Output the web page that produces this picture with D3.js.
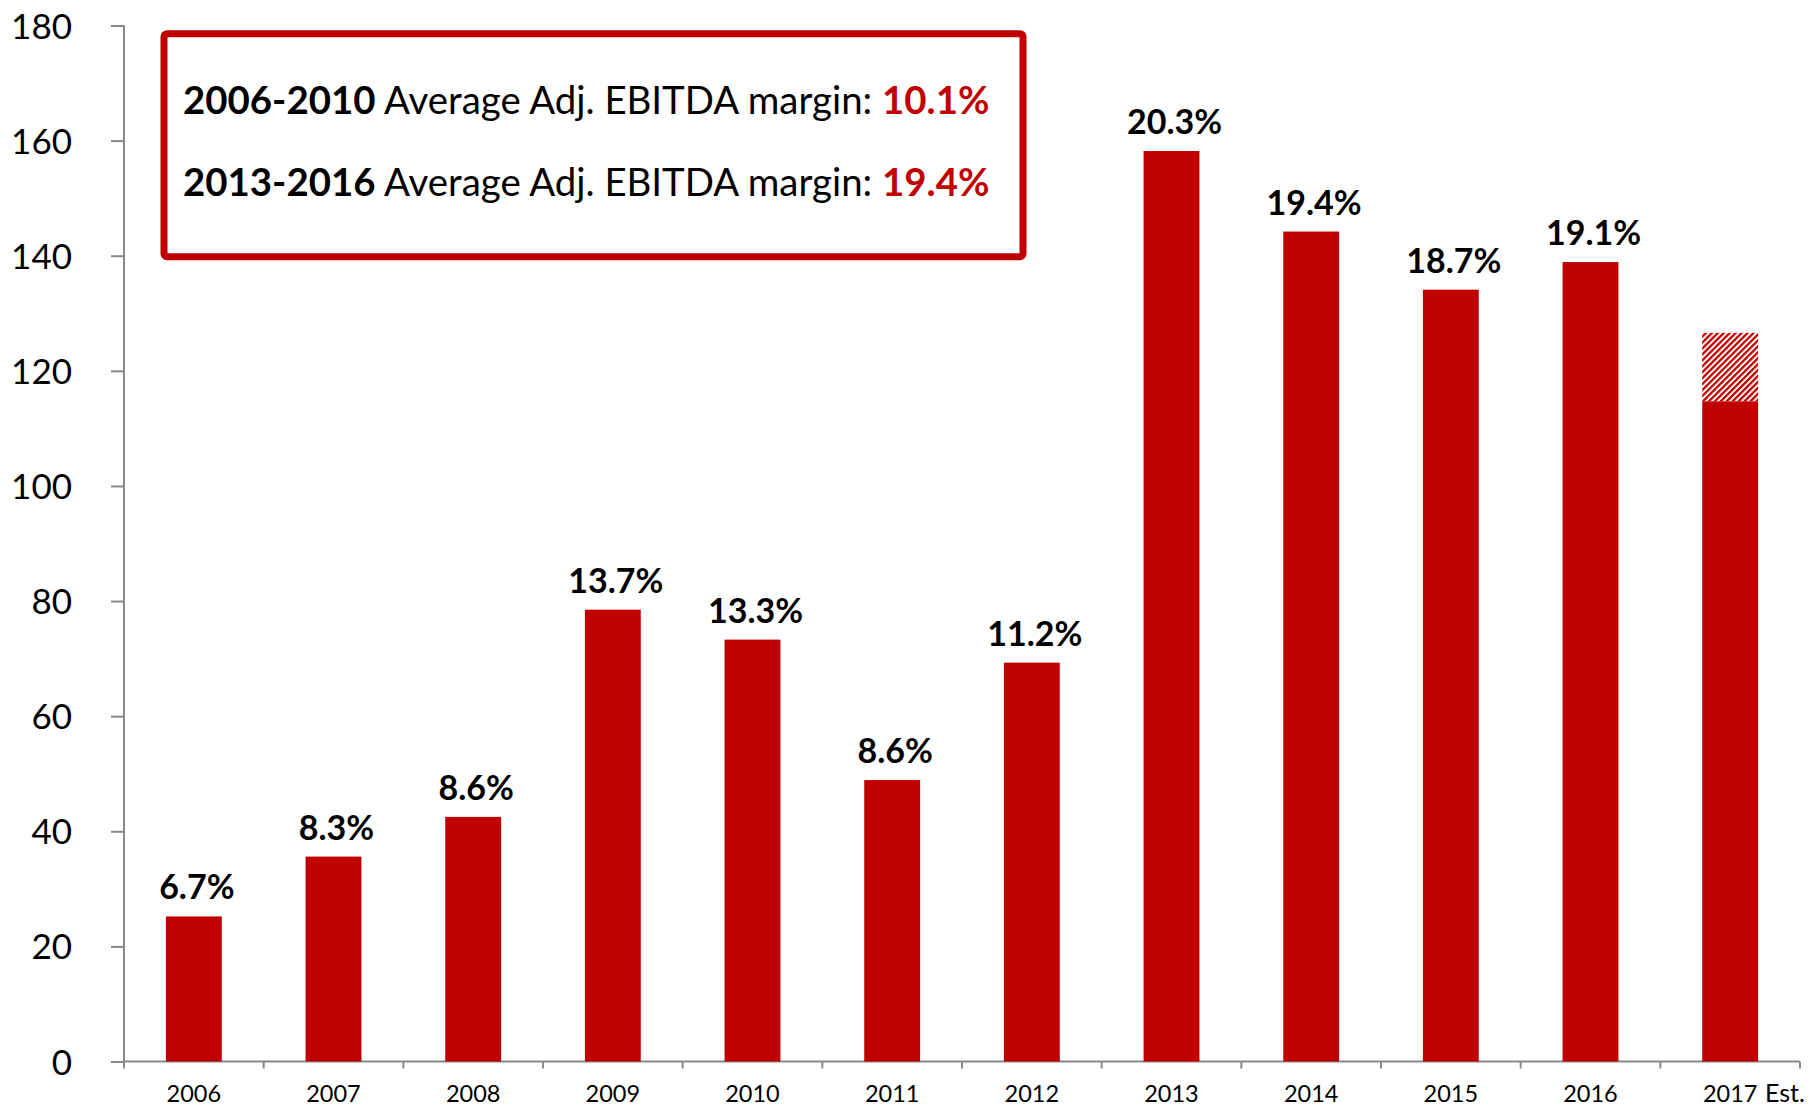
<!DOCTYPE html>
<html>
<head>
<meta charset="utf-8">
<script src="https://cdn.jsdelivr.net/npm/d3@7"></script>
<style>
    body { margin: 0; background: #fff; }
    svg { display: block; font-family: Lato, "Open Sans", sans-serif; }
    .axis path, .axis line { stroke: #898989; stroke-width: 2; }
</style>
</head>
<body>
<div id="chart"></div>
<script>
// years on the x axis
var years = ["2006", "2007", "2008", "2009", "2010", "2011", "2012", "2013", "2014", "2015", "2016", "2017"];
// Adj. EBITDA per year
var ebitda = [25.2, 35.6, 42.5, 78.5, 73.3, 48.9, 69.3, 158.2, 144.2, 134.1, 138.9, 114.7];
// margin labels above each bar, 2017 has none
var margins = ["6.7%", "8.3%", "8.6%", "13.7%", "13.3%", "8.6%", "11.2%", "20.3%", "19.4%", "18.7%", "19.1%", ""];
// upper end of the hatched estimate range
var estYears = ["2017"];
var estHigh = [126.6];
var yTicks = [0, 20, 40, 60, 80, 100, 120, 140, 160, 180];
// text in the box
var boxLines = [
    {period: "2006-2010", text: " Average Adj. EBITDA margin: ", value: "10.1%"},
    {period: "2013-2016", text: " Average Adj. EBITDA margin: ", value: "19.4%"}
];

var red = "#c00000";
var W = 1817, H = 1112;
var plotLeft = 124, plotRight = 1800, plotTop = 25.5, plotBottom = 1061.5;

var svg = d3.select("#chart").append("svg")
    .attr("width", W)
    .attr("height", H);

// hatch for the estimate part
var defs = svg.append("defs");
defs.append("pattern")
    .attr("id", "hatch")
    .attr("patternUnits", "userSpaceOnUse")
    .attr("width", 4.2)
    .attr("height", 4.2)
    .attr("patternTransform", "rotate(45)")
    .append("rect")
    .attr("width", 2.3)
    .attr("height", 4.2)
    .attr("fill", red);

var x = d3.scaleBand()
    .domain(years)
    .range([plotLeft, plotRight])
    .paddingInner(0.6)
    .paddingOuter(0.3);

var y = d3.scaleLinear()
    .domain([0, 180])
    .range([plotBottom, plotTop]);

// y axis
var yAxis = svg.append("g")
    .attr("class", "axis")
    .attr("transform", "translate(" + plotLeft + ",0)")
    .call(d3.axisLeft(y).tickValues(yTicks).tickSize(13).tickPadding(39))
    .attr("font-family", null)
    .attr("font-size", null);
yAxis.select(".domain").attr("d", "M0," + plotTop + "V" + plotBottom);
yAxis.selectAll("text")
    .attr("fill", "#000")
    .style("font-size", "35px")
    .attr("dy", "0.36em");

// x axis, labels under each band, ticks on the band edges
var xAxis = svg.append("g")
    .attr("class", "axis")
    .attr("transform", "translate(0," + plotBottom + ")")
    .call(d3.axisBottom(x).tickSize(0).tickPadding(0))
    .attr("font-family", null)
    .attr("font-size", null);
xAxis.select(".domain").attr("d", "M" + plotLeft + ",0H" + plotRight);
xAxis.selectAll("text")
    .attr("fill", "#000")
    .attr("y", 40)
    .attr("dy", 0)
    .style("font-size", "23.5px");

var edges = d3.range(years.length + 1).map(function (i) {
    return plotLeft + i * x.step();
});
xAxis.selectAll(".edge")
    .data(edges)
    .enter()
    .append("line")
    .attr("class", "edge")
    .attr("x1", function (d) { return d; })
    .attr("x2", function (d) { return d; })
    .attr("y1", 0)
    .attr("y2", 7);

// "Est." after the last year, the year itself stays centred on its bar
xAxis.selectAll(".tick text")
    .filter(function (d) { return estYears.indexOf(d) >= 0; })
    .attr("text-anchor", "start")
    .attr("dx", "-1.16em")
    .append("tspan")
    .attr("dx", "0.3em")
    .style("font-size", "25px")
    .text("Est.");

// estimate hatched part
svg.append("g")
    .selectAll("rect")
    .data(estYears)
    .enter()
    .append("rect")
    .attr("x", function (d) { return x(d); })
    .attr("width", x.bandwidth())
    .attr("y", function (d, i) { return y(estHigh[i]); })
    .attr("height", function (d, i) { return y(ebitda[years.indexOf(d)]) - y(estHigh[i]); })
    .attr("fill", "url(#hatch)");

// bars
svg.append("g")
    .selectAll("rect")
    .data(years)
    .enter()
    .append("rect")
    .attr("x", function (d) { return x(d); })
    .attr("width", x.bandwidth())
    .attr("y", function (d, i) { return y(ebitda[i]); })
    .attr("height", function (d, i) { return plotBottom - y(ebitda[i]); })
    .attr("fill", red);

// margin labels
svg.append("g")
    .selectAll("text")
    .data(years)
    .enter()
    .append("text")
    .attr("x", function (d) { return x(d) + x.bandwidth() / 2 + 3; })
    .attr("y", function (d, i) { return y(ebitda[i]) - 17; })
    .attr("text-anchor", "middle")
    .style("font-size", "34px")
    .style("font-weight", "bold")
    .text(function (d, i) { return margins[i]; });

// box with averages
svg.append("rect")
    .attr("x", 164)
    .attr("y", 33.7)
    .attr("width", 859)
    .attr("height", 223)
    .attr("rx", 3)
    .attr("fill", "none")
    .attr("stroke", red)
    .attr("stroke-width", 7);

var boxText = svg.append("g")
    .selectAll("text")
    .data(boxLines)
    .enter()
    .append("text")
    .attr("x", 183)
    .attr("y", function (d, i) { return 114 + i * 81.5; })
    .style("font-size", "38.4px");
boxText.append("tspan")
    .style("font-weight", "bold")
    .text(function (d) { return d.period; });
boxText.append("tspan")
    .text(function (d) { return d.text; });
boxText.append("tspan")
    .style("font-weight", "bold")
    .attr("fill", red)
    .text(function (d) { return d.value; });
</script>
</body>
</html>
